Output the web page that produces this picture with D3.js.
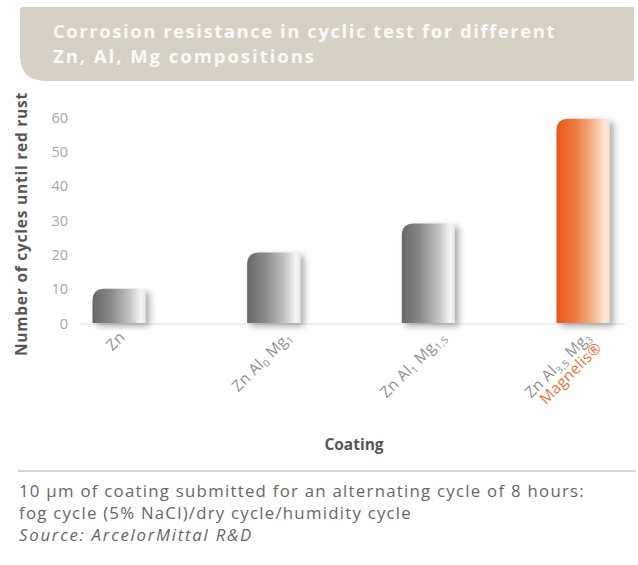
<!DOCTYPE html>
<html><head><meta charset="utf-8">
<script src="https://cdn.jsdelivr.net/npm/d3@7"></script>
<style>
html,body{margin:0;padding:0;background:#fff;}
svg{display:block;}
text{font-family:"Open Sans","Noto Sans",sans-serif;}
</style></head>
<body>
<svg id="c" width="638" height="565"></svg>
<script>
const titleLines = ["Corrosion resistance in cyclic test for different", "Zn, Al, Mg compositions"];
const categories = ["Zn", "ZnAl0Mg1", "ZnAl1Mg1,5", "ZnAl3,5Mg3"];
const values = [10, 20.5, 29, 59.5];
const highlight = [false, false, false, true];
const yTicks = [0, 10, 20, 30, 40, 50, 60];
const labelParts = [
  [["Zn", ""]],
  [["Zn Al", "0"], [" Mg", "1"]],
  [["Zn Al", "1"], [" Mg", "1,5"]],
  [["Zn Al", "3,5"], [" Mg", "3"]]
];
const secondLine = ["", "", "", "Magnelis®"];
const yTitle = "Number of cycles until red rust";
const xTitle = "Coating";
const notes = ["10 µm of coating submitted for an alternating cycle of 8 hours:",
               "fog cycle (5% NaCl)/dry cycle/humidity cycle",
               "Source: ArcelorMittal R&D"];

const svg = d3.select("#c");
const defs = svg.append("defs");

// adjust letter-spacing so a text spans a given width
function fitLS(sel, w){
  const n = sel.node();
  const cur = n.getComputedTextLength();
  const len = n.getNumberOfChars();
  const ls = (w - cur) / Math.max(1, len);
  sel.attr("letter-spacing", ls.toFixed(3));
}

// title band
const bx0 = 20, bx1 = 634, by0 = 7, by1 = 81, r = 26;
svg.append("path")
  .attr("d", `M${bx0+3},${by0} L${bx1},${by0} L${bx1},${by1} L${bx0+r},${by1} Q${bx0},${by1} ${bx0},${by1-r} L${bx0},${by0+3} Q${bx0},${by0} ${bx0+3},${by0} Z`)
  .attr("fill", "#d7d1c5");
titleLines.forEach((t,i)=>{
  const el = svg.append("text").attr("x", 53).attr("y", 38 + i*25)
    .attr("font-size", 18.5).attr("font-weight", "bold").attr("fill", "#fbfaf6").text(t);
  fitLS(el, i===0 ? 503 : 263);
});

// scales
const y = d3.scaleLinear().domain([0, 60]).range([323, 117]);
const x = d3.scalePoint().domain(categories).range([119, 583]);
const bw = 53;

// gradients
const gG = defs.append("linearGradient").attr("id","gGrey").attr("x1","0").attr("x2","1").attr("y1","0").attr("y2","0");
[[0,"#676767"],[0.35,"#8a8a8a"],[0.7,"#c2c2c4"],[0.92,"#f6f6f6"],[1,"#e4e4e4"]].forEach(s=>gG.append("stop").attr("offset",s[0]).attr("stop-color",s[1]));
const gO = defs.append("linearGradient").attr("id","gOr").attr("x1","0").attr("x2","1").attr("y1","0").attr("y2","0");
[[0,"#e8561a"],[0.35,"#ee7a3e"],[0.7,"#f6b58d"],[0.92,"#fde9dc"],[1,"#f7d9c6"]].forEach(s=>gO.append("stop").attr("offset",s[0]).attr("stop-color",s[1]));
const f = defs.append("filter").attr("id","sh").attr("x","-30%").attr("y","-10%").attr("width","160%").attr("height","130%");
f.append("feGaussianBlur").attr("in","SourceAlpha").attr("stdDeviation",3.5).attr("result","b");
f.append("feOffset").attr("in","b").attr("dx",4).attr("dy",3).attr("result","o");
f.append("feComponentTransfer").attr("in","o").attr("result","o2").append("feFuncA").attr("type","linear").attr("slope",0.35);
const m = f.append("feMerge"); m.append("feMergeNode").attr("in","o2"); m.append("feMergeNode").attr("in","SourceGraphic");

// faint baseline
svg.append("line").attr("x1", 80).attr("x2", 625).attr("y1", y(0)+1).attr("y2", y(0)+1)
  .attr("stroke", "#f0f0f0").attr("stroke-width", 2);

// bars
function barPath(x0, y0, w, h){
  const rr = Math.min(12, h/2), r2 = 3;
  return `M${x0},${y0+h} L${x0},${y0+rr} Q${x0},${y0} ${x0+rr},${y0} L${x0+w-r2},${y0} Q${x0+w},${y0} ${x0+w},${y0+r2} L${x0+w},${y0+h} Z`;
}
svg.append("g").selectAll("path").data(categories).join("path")
  .attr("d", (d,i)=>barPath(x(d)-bw/2, y(values[i]), bw, y(0)-y(values[i])))
  .attr("fill", (d,i)=> highlight[i] ? "url(#gOr)" : "url(#gGrey)")
  .attr("filter", "url(#sh)");

// y axis
const yAxis = d3.axisLeft(y).tickValues(yTicks).tickSize(0).tickPadding(0);
const ga = svg.append("g").attr("transform","translate(68,0)").call(yAxis);
ga.select(".domain").remove();
ga.selectAll("text").attr("font-size", 14.5).attr("fill", "#a6a6a6")
  .attr("font-family", '"Open Sans",sans-serif').attr("dy","0.35em");

// y title
const yt = svg.append("text").attr("transform","translate(27,224) rotate(-90)")
  .attr("text-anchor","middle").attr("font-size",15.5).attr("font-weight","bold")
  .attr("fill","#555").text(yTitle);
fitLS(yt, 264);

// x labels
const offs = [7, 19, 19, 9];
categories.forEach((c,i)=>{
  const g = svg.append("g").attr("transform", `translate(${x(c)+offs[i]},${y(0)+15}) rotate(-45)`);
  const t = g.append("text").attr("text-anchor","end").attr("font-size",15.5)
    .attr("letter-spacing",0.3).attr("fill","#8f8f8f");
  labelParts[i].forEach(p=>{
    t.append("tspan").text(p[0]);
    if(p[1]) t.append("tspan").attr("font-size",10).attr("baseline-shift","-30%").text(p[1]);
  });
  if(secondLine[i]){
    g.append("text").attr("text-anchor","end").attr("font-size",15.5).attr("letter-spacing",0.3)
      .attr("fill","#e8733a").attr("x", 0).attr("y", 15).text(secondLine[i]);
  }
});

// x title
svg.append("text").attr("x",354).attr("y",450).attr("text-anchor","middle")
  .attr("font-size",15.5).attr("font-weight","bold").attr("fill","#555").text(xTitle);

// separator
svg.append("line").attr("x1",18).attr("x2",636).attr("y1",471).attr("y2",471)
  .attr("stroke","#c9c9c9").attr("stroke-width",1.5);

// notes
const nw = [566, 393, 234];
notes.forEach((n,i)=>{
  const el = svg.append("text").attr("x",19).attr("y",497 + i*22).attr("font-size",16.8)
    .attr("fill","#666").attr("font-style", i===2?"italic":"normal").text(n);
  fitLS(el, nw[i]);
});
</script>
</body></html>
